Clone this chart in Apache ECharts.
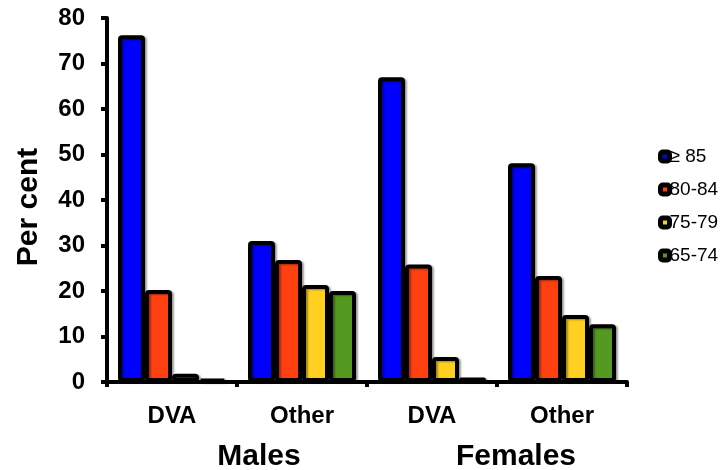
<!DOCTYPE html>
<html><head><meta charset="utf-8">
<script src="https://cdn.jsdelivr.net/npm/echarts@6/dist/echarts.min.js"></script>
<style>html,body{margin:0;padding:0;background:#fff}#c{width:724px;height:470px}</style>
</head><body><div id="c"></div>
<script>
const categories = ['DVA', 'Other', 'DVA', 'Other'];
const groupLabels = ['Males', 'Females'];
const yTitle = 'Per cent';
const seriesNames = ['≥ 85', '80-84', '75-79', '65-74'];
const s85 = [76.2, 31, 67, 48.1];
const s80 = [20.2, 26.8, 25.8, 23.3];
const s75 = [1.8, 21.3, 5.5, 14.7];
const s65 = [0.7, 20, 1.0, 12.7];
const yTicks = [0, 10, 20, 30, 40, 50, 60, 70, 80];
const colors = ['#0000ff', '#ff4010', '#ffd020', '#559a20'];
const values = [s85, s80, s75, s65];

const font = 'Liberation Sans, Arial, sans-serif';
const chart = echarts.init(document.getElementById('c'));
chart.setOption({
  animation: false,
  grid: { left: 107, right: 97, top: 18, bottom: 88 },
  legend: {
    orient: 'vertical', left: 653, top: 142, itemGap: 14,
    itemWidth: 9, itemHeight: 9, icon: 'roundRect',
    itemStyle: { borderColor: '#000', borderWidth: 5 },
    textStyle: { fontFamily: font, fontSize: 19, color: '#000', padding: [0,0,0,-5] },
    data: seriesNames
  },
  xAxis: {
    type: 'category', data: categories,
    axisLine: { lineStyle: { color: '#000', width: 4 } },
    axisTick: { show: true, length: 5, lineStyle: { color: '#000', width: 4 } },
    axisLabel: { fontFamily: font, fontSize: 24, fontWeight: 'bold', color: '#000', margin: 22 }
  },
  yAxis: {
    type: 'value', min: yTicks[0], max: yTicks[yTicks.length - 1], interval: 10,
    axisLine: { show: true, lineStyle: { color: '#000', width: 4 } },
    axisTick: { show: true, length: 6, lineStyle: { color: '#000', width: 4 } },
    splitLine: { show: false },
    axisLabel: { fontFamily: font, fontSize: 24, fontWeight: 'bold', color: '#000', margin: 22 }
  },
  graphic: [
    { type: 'text', x: 29, y: 207, rotation: Math.PI / 2, style: { text: yTitle, align: 'center', verticalAlign: 'middle', fontFamily: font, fontSize: 30, fontWeight: 'bold', fill: '#000' } },
    { type: 'text', x: 259, y: 457, style: { text: groupLabels[0], align: 'center', verticalAlign: 'middle', fontFamily: font, fontSize: 30, fontWeight: 'bold', fill: '#000' } },
    { type: 'text', x: 516, y: 457, style: { text: groupLabels[1], align: 'center', verticalAlign: 'middle', fontFamily: font, fontSize: 30, fontWeight: 'bold', fill: '#000' } }
  ],
  series: seriesNames.map((n, i) => ({
    name: n, type: 'bar', data: values[i],
    barGap: '0%', barWidth: 27,
    itemStyle: { color: colors[i], borderColor: '#000', borderWidth: 4, borderRadius: 2,
      shadowColor: 'rgba(0,0,0,0.35)', shadowBlur: 2, shadowOffsetX: 2, shadowOffsetY: 1 }
  }))
});
</script></body></html>
